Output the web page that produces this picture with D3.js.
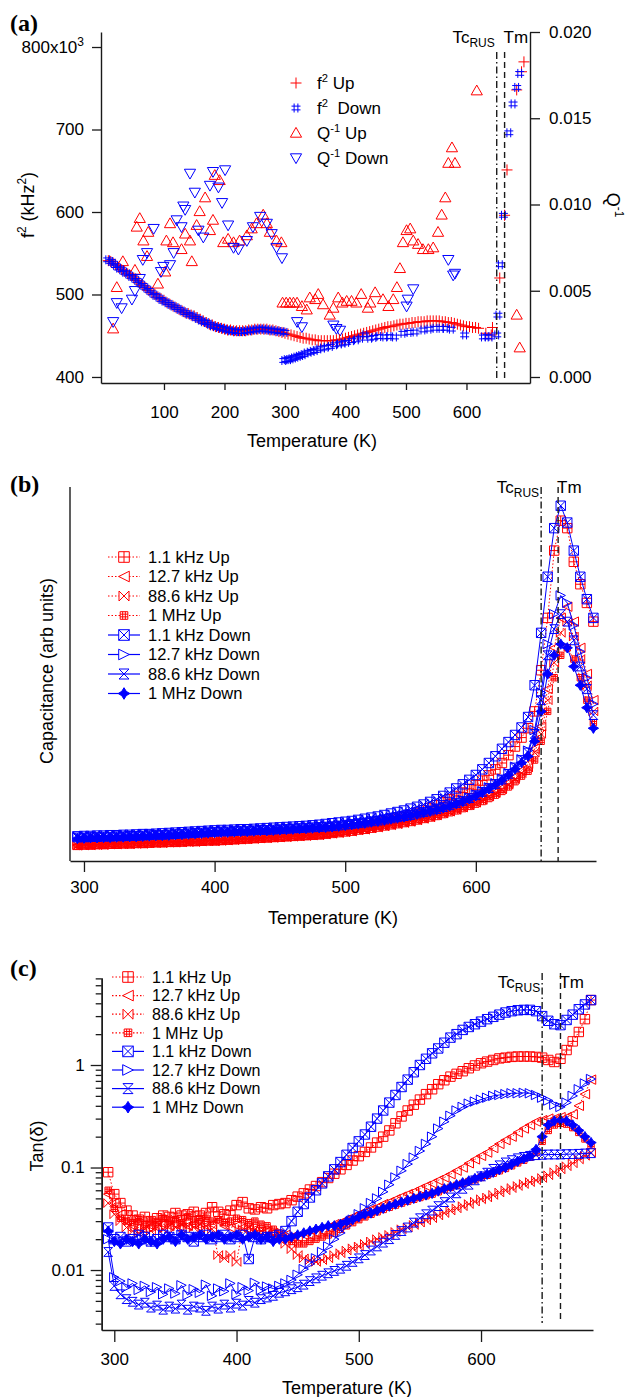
<!DOCTYPE html>
<html><head><meta charset="utf-8">
<script src="https://cdn.jsdelivr.net/npm/d3@7"></script>
<style>
body{margin:0;background:#fff;}
svg{display:block;font-family:"Liberation Sans",Arial,Helvetica,sans-serif;}
</style></head><body>
<svg id="chart" width="633" height="1397"></svg>
<script>
// ================= DATA =================
// ---- Panel (a): f^2 (x10^3 kHz^2) and Q^-1 vs Temperature (K) ----
const aF2Up = [[8,541],[12,540],[16,538],[20,536],[25,533],[30,530],[35,528],[40,525],[45,523],[50,520],[55,517],[60,514],[65,511],[70,508],[75,505],[80,502],[85,500],[90,497],[95,495],[100,493],[105,490],[110,488],[115,486],[120,484],[125,482],[130,480],[135,478],[140,477],[145,475],[150,474],[155,472],[160,470],[165,468],[170,466],[175,464],[180,463],[185,461],[190,460],[195,459],[200,458],[205,457],[210,457],[215,456],[220,456],[225,456],[230,456],[235,456],[240,457],[245,457],[250,458],[255,458],[260,458],[265,458],[270,458],[275,457],[280,457],[285,456],[290,455],[295,454],[300,453],[305,452],[310,451],[315,450],[320,449],[325,448],[330,447],[335,447],[340,446],[345,445],[350,445],[355,444],[360,444],[365,444],[370,444],[375,444],[380,444],[385,445],[390,445],[395,446],[400,447],[405,448],[410,449],[415,450],[420,451],[425,452],[430,453],[435,454],[440,455],[445,456],[450,457],[455,458],[460,459],[465,460],[470,461],[475,461],[480,462],[485,463],[490,464],[495,464],[500,465],[505,465],[510,466],[515,466],[520,467],[525,467],[530,467],[535,468],[540,468],[545,468],[550,468],[555,468],[560,467],[565,467],[570,466],[575,466],[580,465],[585,464],[590,463],[595,462],[600,461],[605,461],[610,460],[615,460],[620,459],[632,453],[641,451],[643,460],[655,520],[663,596],[667,651],[683,748],[691,770],[695,782]];
const aF2Down = [[7,542],[12,540],[16,538],[20,535],[25,532],[30,530],[35,527],[40,525],[45,522],[50,520],[55,517],[60,514],[65,511],[70,508],[75,505],[80,502],[85,499],[90,497],[95,494],[100,492],[105,490],[110,488],[115,486],[120,484],[125,482],[130,480],[135,478],[140,476],[145,475],[150,473],[155,471],[160,469],[165,467],[170,466],[175,464],[180,462],[185,461],[190,460],[195,459],[200,458],[205,457],[210,456],[215,456],[220,455],[225,455],[230,455],[235,456],[240,456],[245,457],[250,457],[255,458],[260,458],[265,458],[270,457],[275,457],[280,456],[285,456],[290,455],[295,455],[300,454],
  [298,420],[302,421],[306,421],[310,422],[314,423],[318,424],[322,425],[326,426],[330,427],[335,429],[340,430],[345,431],[350,432],[356,434],[362,435],[368,436],[375,437],[382,439],[390,440],[396,441],[402,442],[410,444],[418,445],[425,447],[432,451],[440,447],[447,448],[455,449],[465,448.5],[472,449],[481,448.5],[495,453],[505,454],[515,454.5],[528,457],[538,458],[548,459],[558,459],[565,459],[575,458],[597,451],[628,448.5],[634,449],[639,448.5],[650,451],[652,475],[656,536],[661,596],[670,696],[677,731],[683,751],[688,768]];
const aQUp = [[16,.0028],[22,.0052],[32,.0067],[52,.0062],[55,.0087],[60,.0092],[66,.0079],[72,.0070],[74,.0084],[90,.0054],[102,.0061],[104,.0079],[110,.0089],[115,.0078],[129,.0074],[135,.0083],[143,.0079],[146,.0067],[154,.0088],[159,.0096],[168,.0104],[176,.0085],[181,.0091],[184,.0117],[192,.0114],[198,.0078],[206,.0080],[215,.0078],[225,.0079],[237,.0082],[245,.0086],[253,.0089],[264,.0094],[270,.0089],[275,.0084],[286,.0079],[294,.0078],
  [296,.0043],[302,.0043],[308,.0043],[314,.0043],[320,.0043],[328,.0041],[336,.0039],[341,.0046],[350,.0045],[355,.0048],[363,.0042],[374,.0036],[380,.0040],[388,.0046],[395,.0043],[402,.0044],[410,.0044],[418,.0043],[426,.0048],[437,.0040],[441,.0043],[449,.0049],[462,.0045],[471,.0041],[479,.0045],[485,.0052],[490,.0063],[495,.0078],[501,.0085],[507,.0086],[512,.0079],[520,.0077],[528,.0074],[537,.0074],[545,.0075],[553,.0084],[559,.0094],[565,.0104],[570,.0124],[576,.0133],[581,.0124],[617,.0166],[683,.0036],[688,.0017]];
const aQDown = [[16,.0032],[22,.0043],[30,.0040],[47,.0045],[52,.0050],[60,.0057],[65,.0068],[72,.0072],[83,.0086],[95,.0061],[99,.0064],[110,.0065],[116,.0072],[121,.0091],[129,.0087],[132,.0099],[135,.0097],[143,.0118],[151,.0107],[157,.0085],[165,.0081],[176,.0111],[181,.0119],[190,.0110],[196,.0101],[201,.0120],[206,.0088],[215,.0075],[223,.0074],[237,.0079],[247,.0087],[259,.0093],[270,.0089],[278,.0083],[286,.0075],[295,.0069],[320,.0032],[328,.0029],[380,.0030],[385,.0028],[391,.0027],[501,.0041],[503,.0045],[512,.0051],[570,.0068],[578,.0059],[581,.0060]];
const aTicksLeft = [400,500,600,700,800];
const aTicksRight = [0,0.005,0.010,0.015,0.020];
const aTicksX = [100,200,300,400,500,600];
const aTransT = [650,663];   // Tc_RUS, Tm

// ---- Panels (b) and (c): common temperature grid (K) ----
const temps = [295,300,305,310,315,320,325,330,335,340,
 345,350,355,360,365,370,375,380,385,390,
 395,400,405,410,415,420,425,430,435,440,
 445,450,455,460,465,470,475,480,485,490,
 495,500,505,510,515,520,525,530,535,540,
 545,550,555,560,565,570,575,580,585,590,
 595,600,605,610,615,620,625,630,635,640,
 645,650,655,660,665,670,675,680,685,690];

// ---- Panel (b): capacitance (arb units) ----
const bUp1k = [4.4,4.5,4.5,4.6,4.6,4.7,4.7,4.8,4.8,4.9, 4.9,5.0,5.1,5.1,5.2,5.2,5.3,5.4,5.4,5.5, 5.6,5.6,5.7,5.8,5.9,6.0,6.1,6.2,6.3,6.4, 6.5,6.6,6.7,6.8,6.9,7.0,7.1,7.3,7.5,7.8, 8.0,8.3,8.6,8.9,9.2,9.6,10.0,10.4,10.8,11.3, 11.8,12.3,12.9,13.5,14.2,14.9,15.7,16.5,17.4,18.3, 19.3,20.3,21.5,22.9,24.5,26.2,28.3,30.6,33.0,35.5, 40,51,65,83,91,89,80,74,69,64];
const bUp12k = [4.2,4.3,4.3,4.4,4.4,4.5,4.5,4.6,4.6,4.7, 4.7,4.8,4.9,4.9,5.0,5.0,5.1,5.2,5.2,5.3, 5.4,5.4,5.5,5.6,5.7,5.8,5.9,6.0,6.1,6.2, 6.3,6.4,6.5,6.6,6.7,6.8,6.9,7.0,7.2,7.4, 7.6,7.8,8.0,8.3,8.5,8.8,9.1,9.4,9.7,10.0, 10.3,10.6,11.0,11.4,11.8,12.3,12.8,13.3,13.8,14.4, 15.0,15.7,16.5,17.4,18.4,19.5,20.9,22.5,24.2,26.0, 30,36,46,57,65,68,64,57,50,43];
const bUp88k = [4.1,4.2,4.2,4.3,4.3,4.4,4.4,4.5,4.5,4.6, 4.6,4.7,4.8,4.8,4.9,4.9,5.0,5.1,5.1,5.2, 5.3,5.3,5.4,5.5,5.6,5.7,5.8,5.9,6.0,6.1, 6.2,6.3,6.4,6.5,6.6,6.7,6.8,6.9,7.1,7.3, 7.5,7.7,7.9,8.2,8.4,8.7,9.0,9.3,9.6,9.9, 10.2,10.5,10.9,11.3,11.7,12.2,12.7,13.2,13.7,14.3, 14.9,15.6,16.3,17.2,18.1,19.1,20.4,21.9,23.5,25, 29,34,43,53,61,64,60,54,47,40];
const bUp1M = [3.9,4.0,4.0,4.1,4.1,4.2,4.2,4.3,4.3,4.4, 4.4,4.5,4.6,4.6,4.7,4.7,4.8,4.9,4.9,5.0, 5.1,5.1,5.2,5.3,5.4,5.5,5.6,5.7,5.8,5.9, 6.0,6.1,6.2,6.3,6.4,6.5,6.6,6.7,6.9,7.1, 7.3,7.5,7.7,8.0,8.2,8.5,8.8,9.1,9.4,9.7, 10.0,10.3,10.7,11.1,11.5,11.9,12.4,12.9,13.4,14.0, 14.6,15.2,15.9,16.7,17.6,18.6,19.8,21.2,22.7,24, 27,32,40,49,55,57,54,49,43,37];
const bDn1k = [6.6,6.7,6.7,6.8,6.8,6.9,6.9,7.0,7.0,7.1, 7.2,7.2,7.3,7.4,7.5,7.6,7.7,7.8,7.9,8.0, 8.1,8.2,8.3,8.3,8.4,8.5,8.5,8.6,8.7,8.8, 8.9,9.0,9.1,9.2,9.3,9.4,9.55,9.7,9.9,10.1, 10.3,10.5,10.7,11.0,11.3,11.6,11.9,12.3,12.7,13.1, 13.5,14.0,14.5,15.1,15.8,16.5,17.4,18.3,19.4,20.5, 21.7,23.0,24.5,26.2,28.0,30.0,31.8,33.7,35.7,38.5, 47,61,76,89,95,90.5,83,76,70,65];
const bDn12k = [6.4,6.5,6.5,6.6,6.6,6.7,6.7,6.8,6.8,6.9, 7.0,7.0,7.1,7.2,7.3,7.4,7.5,7.6,7.7,7.8, 7.9,8.0,8.1,8.1,8.2,8.3,8.3,8.4,8.5,8.5, 8.6,8.7,8.8,8.9,9.0,9.1,9.2,9.3,9.4,9.5, 9.7,9.9,10.1,10.3,10.5,10.8,11.0,11.3,11.6,11.9, 12.2,12.5,12.9,13.3,13.7,14.1,14.6,15.1,15.7,16.3, 17.0,17.8,18.7,19.7,20.8,22.0,23.5,25.2,27.2,29.5, 35,45,58,66,71,69,63,56,49,42];
const bDn88k = [6.3,6.3,6.4,6.4,6.5,6.5,6.6,6.6,6.7,6.7, 6.8,6.9,7.0,7.0,7.1,7.2,7.3,7.4,7.5,7.6, 7.7,7.8,7.9,7.9,8.0,8.1,8.1,8.2,8.3,8.3, 8.4,8.5,8.6,8.7,8.8,8.9,9.0,9.1,9.2,9.3, 9.5,9.7,9.9,10.1,10.3,10.6,10.8,11.1,11.4,11.7, 12.0,12.3,12.7,13.1,13.5,13.9,14.4,14.9,15.5,16.1, 16.8,17.6,18.5,19.5,20.6,21.8,23.3,25.0,27.0,29, 34,43,55,62,66,64,59,52,46,39];
const bDn1M = [6.0,6.1,6.2,6.2,6.3,6.3,6.4,6.4,6.5,6.5, 6.6,6.7,6.8,6.8,6.9,7.0,7.1,7.2,7.3,7.4, 7.5,7.6,7.7,7.7,7.8,7.9,7.9,8.0,8.1,8.1, 8.2,8.3,8.4,8.5,8.6,8.7,8.8,8.9,9.0,9.1, 9.3,9.5,9.7,9.9,10.1,10.4,10.6,10.9,11.2,11.5, 11.8,12.1,12.5,12.9,13.3,13.7,14.2,14.7,15.3,15.9, 16.6,17.4,18.3,19.3,20.4,21.6,23.0,24.6,26.3,28, 32,40,50,55,58,57,52,47,41,35.5];
const bTicksX = [300,400,500,600];
const bTransT = [650,663];

// ---- Panel (c): tan(delta) ----
const cUp1k = [.09,.055,.045,.038,.034,.031,.033,.03,.032,.034, .033,.036,.034,.035,.037,.034,.036,.041,.037,.035, .038,.043,.046,.04,.039,.041,.04,.043,.044,.045, .048,.052,.056,.061,.066,.072,.079,.087,.096,.106, .117,.129,.142,.157,.175,.2,.23,.27,.315,.36, .41,.46,.52,.58,.65,.71,.77,.82,.87,.93, .99,1.04,1.08,1.12,1.16,1.18,1.2,1.21,1.21,1.21, 1.2,1.18,1.12,1.07,1.15,1.4,1.7,2.1,2.8,4.3];
const cUp12k = [.055,.045,.035,.03,.027,.026,.025,.027,.026,.028, .027,.028,.026,.027,.028,.026,.027,.028,.03,.027, .026,.027,.026,.025,.025,.024,.024,.023,.022,.022, .021,.021,.022,.022,.023,.024,.026,.028,.029,.031, .033,.035,.037,.039,.041,.044,.046,.049,.052,.055, .058,.062,.066,.07,.075,.08,.086,.093,.1,.11, .12,.13,.14,.155,.17,.185,.2,.22,.24,.26, .28,.29,.3,.3,.31,.31,.33,.4,.52,.72];
const cUp88k = [.045,.035,.03,.026,.024,.023,.025,.024,.026,.025, .027,.026,.028,.027,.026,.028,.027,.025,.014,.013, .014,.012,.025,.026,.025,.024,.023,.022,.02,.018, .016,.014,.013,.0125,.012,.0125,.013,.014,.0146,.0155, .0163,.017,.018,.019,.02,.021,.022,.0235,.025,.026, .0275,.029,.0305,.032,.034,.036,.038,.04,.042,.044, .0465,.049,.051,.054,.057,.06,.063,.066,.069,.072, .075,.079,.084,.09,.096,.103,.11,.12,.13,.14];
const cUp1M = [.06,.04,.032,.03,.029,.031,.028,.03,.029,.032, .03,.031,.029,.033,.03,.031,.032,.03,.031,.029, .03,.032,.031,.029,.03,.028,.027,.025,.023,.021, .019,.018,.018,.019,.02,.021,.022,.023,.025,.027, .029,.031,.033,.035,.037,.039,.041,.043,.045,.047, .049,.051,.053,.055,.058,.061,.064,.067,.07,.073, .076,.08,.084,.088,.093,.098,.104,.111,.118,.126, .14,.18,.23,.26,.27,.265,.245,.22,.19,.165];
const cDn1k = [.026,.02,.021,.019,.02,.022,.021,.019,.02,.022, .021,.02,.022,.021,.019,.021,.022,.02,.021,.022, .02,.021,.022,.0128,.021,.02,.021,.021,.022,.024, .03,.037,.044,.051,.06,.07,.082,.096,.113,.133, .155,.18,.21,.25,.3,.36,.43,.51,.61,.72, .85,1.0,1.15,1.3,1.45,1.65,1.85,2.0,2.2,2.35, 2.5,2.65,2.8,2.95,3.1,3.25,3.35,3.42,3.45,3.45, 3.35,3.0,2.7,2.5,2.45,2.75,3.1,3.5,3.9,4.3];
const cDn12k = [.02,.0085,.0078,.0068,.0074,.0064,.007,.0061,.0068,.0058, .0066,.0059,.0071,.0057,.0065,.006,.0072,.0056,.0066,.0062, .0074,.0058,.0068,.0063,.0075,.0064,.0069,.0066,.007,.0074, .008,.009,.0102,.0115,.013,.015,.017,.02,.023,.027, .031,.035,.04,.045,.05,.058,.068,.08,.093,.108, .125,.145,.17,.2,.24,.28,.32,.36,.39,.42, .44,.46,.48,.5,.51,.52,.53,.53,.535,.53, .51,.48,.45,.41,.39,.43,.5,.58,.66,.73];
const cDn88k = [.015,.007,.0058,.0052,.0049,.0046,.0048,.0043,.0045,.0041, .0044,.0042,.0046,.0041,.0044,.0043,.004,.0044,.0042,.0046, .0043,.0047,.0045,.005,.0048,.0052,.0054,.0056,.006,.0062, .0065,.0068,.0072,.0078,.0083,.0088,.0093,.0098,.0103,.011, .012,.013,.014,.0155,.017,.0185,.02,.022,.024,.026, .029,.032,.035,.038,.042,.046,.051,.056,.062,.068, .075,.082,.089,.097,.105,.112,.118,.123,.127,.13, .132,.133,.134,.134,.134,.135,.135,.136,.137,.138];
const cDn1M = [.024,.019,.018,.02,.019,.018,.02,.019,.018,.02, .021,.019,.022,.02,.021,.022,.02,.021,.022,.02, .021,.022,.02,.021,.022,.02,.021,.019,.02,.02, .021,.022,.023,.024,.025,.026,.027,.027,.028,.03, .031,.033,.035,.036,.038,.04,.042,.044,.046,.048, .05,.052,.054,.056,.059,.062,.065,.068,.071,.074, .078,.082,.086,.09,.095,.1,.107,.115,.122,.13, .15,.2,.26,.285,.29,.285,.26,.23,.2,.175];
const cTicksX = [300,400,500,600];
const cTicksMajor = [0.01,0.1,1];
const cTicksMinor = [0.003,0.004,0.005,0.006,0.007,0.008,0.009,0.02,0.03,0.04,0.05,0.06,0.07,0.08,0.09,0.2,0.3,0.4,0.5,0.6,0.7,0.8,0.9,2,3,4,5,6,7];
const cTransT = [650,665];

const freqLabels = ["1.1 kHz Up","12.7 kHz Up","88.6 kHz Up","1 MHz Up","1.1 kHz Down","12.7 kHz Down","88.6 kHz Down","1 MHz Down"];

// ================= DRAWING =================
const RED="#ff0000", BLUE="#0000ff", INK="#1a1a1a";
const TICK_FS=17, TITLE_FS=18;
const svg=d3.select("#chart");
svg.append("rect").attr("width",633).attr("height",1397).attr("fill","#fff");

function shape(name,s){
  switch(name){
    case "plus": return `M${-s},0H${s}M0,${-s}V${s}`;
    case "hash": {const a=s*0.42;return `M${-a},${-s}V${s}M${a},${-s}V${s}M${-s},${-a}H${s}M${-s},${a}H${s}`;}
    case "triUp": return `M0,${-s}L${s},${s*0.75}H${-s}Z`;
    case "triDown": return `M0,${s}L${s},${-s*0.75}H${-s}Z`;
    case "sqPlus": return `M${-s},${-s}H${s}V${s}H${-s}ZM0,${-s}V${s}M${-s},0H${s}`;
    case "triLeft": return `M${-s},0L${s},${-s}V${s}Z`;
    case "bowtie": return `M${-s},${-s}V${s}L${s},${-s}V${s}Z`;
    case "sqHash": {const a=s*0.35;return `M${-s},${-s}H${s}V${s}H${-s}ZM${-a},${-s}V${s}M${a},${-s}V${s}M${-s},${-a}H${s}M${-s},${a}H${s}`;}
    case "sqX": return `M${-s},${-s}H${s}V${s}H${-s}ZM${-s},${-s}L${s},${s}M${s},${-s}L${-s},${s}`;
    case "triRight": return `M${s},0L${-s},${-s}V${s}Z`;
    case "hourglass": return `M${-s},${-s}H${s}L${-s},${s}H${s}Z`;
    case "star4": {const a=s*0.38;return `M0,${-s}L${a},${-a}L${s},0L${a},${a}L0,${s}L${-a},${a}L${-s},0L${-a},${-a}Z`;}
  }
}

function markers(g,pts,xs,ys,o){
  g.append("g").selectAll("path").data(pts).join("path")
    .attr("transform",d=>`translate(${xs(d[0])},${ys(d[1])})`)
    .attr("d",shape(o.shape,o.size))
    .attr("fill",o.fill||"none").attr("stroke",o.color).attr("stroke-width",o.sw||1);
}
function series(g,Ts,Vs,xs,ys,o){
  const pts=Vs.map((v,i)=>[Ts[i],v]);
  g.append("path").datum(pts)
    .attr("d",d3.line().x(d=>xs(d[0])).y(d=>ys(d[1])))
    .attr("fill","none").attr("stroke",o.color).attr("stroke-width",o.lw||1)
    .attr("stroke-dasharray",o.dash||null);
  markers(g,pts,xs,ys,o);
}
function styleAxis(sel,fs){
  sel.selectAll("path.domain").attr("stroke",INK).attr("stroke-width",1.4);
  sel.selectAll(".tick line").attr("stroke",INK).attr("stroke-width",1.3);
  sel.selectAll("text").attr("fill","#000").attr("font-size",fs||TICK_FS).attr("font-family",'"Liberation Sans",Arial,sans-serif');
}
function supText(sel,parts,fs){
  parts.forEach(p=>{
    if(p[1]==="sup") sel.append("tspan").attr("font-size",fs*0.66).attr("dy",-fs*0.42).text(p[0]);
    else if(p[1]==="back") sel.append("tspan").attr("dy",fs*0.42).text(p[0]);
    else sel.append("tspan").text(p[0]);
  });
}
function panelLetter(x,y,t){
  svg.append("text").attr("x",x).attr("y",y).attr("font-family",'"Liberation Serif","Times New Roman",serif')
    .attr("font-weight","bold").attr("font-size",24).text(t);
}
function transLines(xs,Ts,y0,y1,labY){
  const dashes=["7,3,1.5,3","6,4"];
  Ts.forEach((t,i)=>{
    svg.append("line").attr("x1",xs(t)).attr("x2",xs(t)).attr("y1",y0).attr("y2",y1)
      .attr("stroke",INK).attr("stroke-width",1.4).attr("stroke-dasharray",dashes[i]);
  });
  const tc=svg.append("text").attr("x",xs(Ts[0])-2).attr("y",labY).attr("text-anchor","end").attr("font-size",17);
  tc.append("tspan").text("Tc");
  tc.append("tspan").attr("font-size",12).attr("dy",4).text("RUS");
  svg.append("text").attr("x",xs(Ts[1])-1).attr("y",labY).attr("font-size",17).text("Tm");
}

// ---------- Panel (a) ----------
{
  const xs=d3.scaleLinear().domain([-4.1,705]).range([101,530]);
  const yl=d3.scaleLinear().domain([392.7,818.2]).range([383,32]);
  const yr=d3.scaleLinear().domain([-0.000348,0.020]).range([383,32]);
  const g=svg.append("g");
  markers(g,aQUp,xs,yr,{shape:"triUp",size:5.6,color:RED});
  markers(g,aQDown,xs,yr,{shape:"triDown",size:5.6,color:BLUE});
  markers(g,aF2Up,xs,yl,{shape:"plus",size:5.5,color:RED});
  markers(g,aF2Down,xs,yl,{shape:"hash",size:4.5,color:BLUE});
  const axL=svg.append("g").attr("transform","translate(101,0)")
    .call(d3.axisLeft(yl).tickValues(aTicksLeft).tickSize(9).tickSizeOuter(0).tickPadding(8).tickFormat(d3.format("d")));
  styleAxis(axL);
  axL.selectAll(".tick text").filter(d=>d===800).each(function(){
    const t=d3.select(this); t.text("800x10");
    t.append("tspan").attr("font-size",12).attr("dy",-7).text("3");
  });
  const axR=svg.append("g").attr("transform","translate(530,0)")
    .call(d3.axisRight(yr).tickValues(aTicksRight).tickSize(10).tickSizeOuter(0).tickPadding(9).tickFormat(d3.format(".3f")));
  styleAxis(axR);
  const axB=svg.append("g").attr("transform","translate(0,383)")
    .call(d3.axisBottom(xs).tickValues(aTicksX).tickSize(7).tickSizeOuter(0).tickPadding(16).tickFormat(d3.format("d")));
  styleAxis(axB);
  transLines(xs,aTransT,52,380,43);
  svg.append("text").attr("x",312).attr("y",447).attr("text-anchor","middle").attr("font-size",TITLE_FS).text("Temperature (K)");
  const fl=svg.append("text").attr("transform","translate(34,205) rotate(-90)").attr("text-anchor","middle").attr("font-size",TITLE_FS);
  supText(fl,[["f"],["2","sup"],[" (kHz","back"],["2","sup"],[")","back"]],TITLE_FS);
  const ql=svg.append("text").attr("transform","translate(607,205) rotate(90)").attr("text-anchor","middle").attr("font-size",TITLE_FS);
  supText(ql,[["Q"],["-1","sup"]],TITLE_FS);
  const leg=[["plus",5.5,RED,[["f"],["2","sup"],["\u00a0Up","back"]]],
             ["hash",4.5,BLUE,[["f"],["2","sup"],["\u00a0\u00a0Down","back"]]],
             ["triUp",5.6,RED,[["Q"],["-1","sup"],["\u00a0Up","back"]]],
             ["triDown",5.6,BLUE,[["Q"],["-1","sup"],["\u00a0Down","back"]]]];
  leg.forEach((l,i)=>{
    const y=83+i*25;
    svg.append("path").attr("transform",`translate(296,${y})`).attr("d",shape(l[0],l[1])).attr("fill","none").attr("stroke",l[2]);
    const t=svg.append("text").attr("x",317).attr("y",y+6).attr("font-size",17);
    supText(t,l[3],17);
  });
  panelLetter(10,31,"(a)");
}

const sty=[
 {shape:"sqPlus",size:4.7,color:RED,dash:"1.5,2"},
 {shape:"triLeft",size:4.7,color:RED,dash:"1.5,2"},
 {shape:"bowtie",size:4.4,color:RED,dash:"1.5,2"},
 {shape:"sqHash",size:3.2,color:RED,dash:"1.5,2"},
 {shape:"sqX",size:4.7,color:BLUE},
 {shape:"triRight",size:4.7,color:BLUE},
 {shape:"hourglass",size:4.4,color:BLUE},
 {shape:"star4",size:5.2,color:BLUE,fill:BLUE}
];
function legend(x0,y0,dy,fs){
  sty.forEach((s,i)=>{
    const y=y0+i*dy;
    svg.append("line").attr("x1",x0-16).attr("x2",x0+16).attr("y1",y).attr("y2",y)
      .attr("stroke",s.color).attr("stroke-width",1.2).attr("stroke-dasharray",s.dash||null);
    svg.append("path").attr("transform",`translate(${x0},${y})`).attr("d",shape(s.shape,s.size+0.6))
      .attr("fill",s.fill||"#fff").attr("stroke",s.color);
    svg.append("text").attr("x",x0+24).attr("y",y+fs*0.36).attr("font-size",fs).text(freqLabels[i]);
  });
}

// ---------- Panel (b) ----------
{
  const xs=d3.scaleLinear().domain([289.3,692]).range([70,596]);
  const ys=d3.scaleLinear().domain([0,100]).range([861,487]);
  const g=svg.append("g");
  const data=[bUp1k,bUp12k,bUp88k,bUp1M,bDn1k,bDn12k,bDn88k,bDn1M];
  [3,2,1,0,7,6,5,4].forEach(i=>series(g,temps,data[i],xs,ys,sty[i]));
  svg.append("line").attr("x1",70).attr("x2",70).attr("y1",487).attr("y2",861).attr("stroke",INK).attr("stroke-width",1.4);
  const axB=svg.append("g").attr("transform","translate(0,861)")
    .call(d3.axisBottom(xs).tickValues(bTicksX).tickSize(11).tickSizeOuter(0).tickPadding(9).tickFormat(d3.format("d")));
  styleAxis(axB);
  transLines(xs,bTransT,487,861,493);
  svg.append("text").attr("x",333).attr("y",924).attr("text-anchor","middle").attr("font-size",TITLE_FS).text("Temperature (K)");
  svg.append("text").attr("transform","translate(53,671) rotate(-90)").attr("text-anchor","middle").attr("font-size",TITLE_FS).text("Capacitance (arb units)");
  legend(124,557,19.5,16.5);
  panelLetter(10,492,"(b)");
}

// ---------- Panel (c) ----------
{
  const xs=d3.scaleLinear().domain([289.7,691.6]).range([101.7,593]);
  const ys=d3.scaleLog().domain([0.0026,7.06]).range([1330,978]);
  const g=svg.append("g");
  const data=[cUp1k,cUp12k,cUp88k,cUp1M,cDn1k,cDn12k,cDn88k,cDn1M];
  [3,2,1,0,6,5,7,4].forEach(i=>series(g,temps,data[i],xs,ys,sty[i]));
  const axMinor=svg.append("g").attr("transform","translate(101.7,0)")
    .call(d3.axisLeft(ys).tickValues(cTicksMinor).tickSize(6).tickSizeOuter(0).tickFormat(""));
  styleAxis(axMinor);
  const axL=svg.append("g").attr("transform","translate(101.7,0)")
    .call(d3.axisLeft(ys).tickValues(cTicksMajor).tickSize(11).tickSizeOuter(0).tickPadding(6).tickFormat(d=>d>=1?"1":d>=0.1?"0.1":"0.01"));
  styleAxis(axL);
  const axB=svg.append("g").attr("transform","translate(0,1330)")
    .call(d3.axisBottom(xs).tickValues(cTicksX).tickSize(12).tickSizeOuter(0).tickPadding(11).tickFormat(d3.format("d")));
  styleAxis(axB);
  transLines(xs,cTransT,973,1323,988);
  svg.append("text").attr("x",347).attr("y",1394).attr("text-anchor","middle").attr("font-size",TITLE_FS).text("Temperature (K)");
  svg.append("text").attr("transform","translate(43,1146) rotate(-90)").attr("text-anchor","middle").attr("font-size",TITLE_FS).text("Tan(\u03b4)");
  legend(128,977,18.6,16);
  panelLetter(10,976,"(c)");
}
</script>
</body></html>
